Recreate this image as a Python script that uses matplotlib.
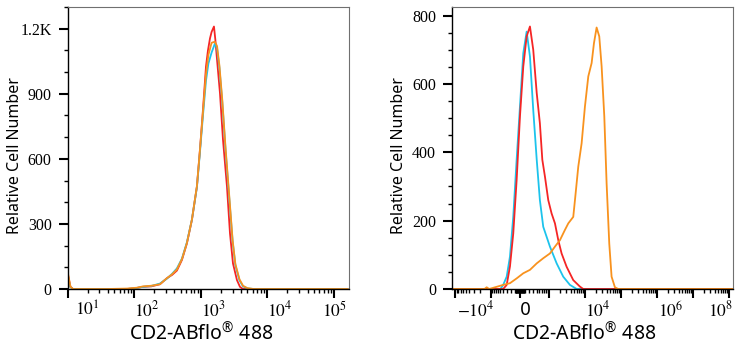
import numpy as np
import matplotlib
matplotlib.use("Agg")
import matplotlib.pyplot as plt
from matplotlib.ticker import FixedLocator, MultipleLocator, LogLocator, NullFormatter
from matplotlib.transforms import ScaledTranslation

plt.rcParams['mathtext.fontset'] = 'stix'

RED = '#f52525'
CYAN = '#1cc3ec'
ORANGE = '#f8921e'

# ---- left panel (log axis) ----
left_x_red = [10, 11, 12, 40, 78, 110, 135, 180, 243, 310, 370, 437, 520, 617, 734, 873, 969,
              1076, 1194, 1279, 1371, 1450, 1574, 1650, 1747, 1938, 2150, 2468, 2738, 3037,
              3486, 3867, 4289, 6000, 1.6e5]
left_y_red = [70, 10, 0, 0, 0, 5, 10, 12, 22, 50, 65, 85, 134, 210, 318, 472, 641,
              826, 1025, 1100, 1155, 1185, 1210, 1150, 1060, 902, 688, 472, 257, 118,
              41, 10, 0, 0, 0]
left_x_other = [10, 11, 12, 40, 78, 110, 135, 180, 243, 310, 370, 437, 520, 617, 734, 873, 969,
                1076, 1194, 1300, 1450, 1620, 1750, 1900, 2100, 2350, 2700, 3000, 3300,
                3800, 4300, 5000, 6200, 1.6e5]
left_y_cyan = [60, 8, 0, 0, 0, 5, 10, 14, 25, 48, 70, 95, 140, 215, 320, 470, 630,
               800, 960, 1040, 1090, 1130, 1110, 1020, 860, 640, 400, 220, 110,
               40, 12, 3, 0, 0]
left_y_orange = [78, 10, 0, 0, 2, 6, 12, 15, 22, 50, 68, 90, 138, 212, 320, 475, 640,
                 815, 990, 1080, 1135, 1140, 1120, 1030, 870, 650, 410, 225, 115,
                 45, 15, 4, 0, 0]
left_yticks = [0, 300, 600, 900, 1200]
left_yticklabels = ['0', '300', '600', '900', '1.2K']
left_xticks = [1e1, 1e2, 1e3, 1e4, 1e5]
left_xticklabels = ['$10^{1}$', '$10^{2}$', '$10^{3}$', '$10^{4}$', '$10^{5}$']

# ---- right panel (biexponential axis) ----
right_x_cyan = [-12100, -500, -404, -299, -214, -138, -67, 0, 67, 138, 214, 299, 404, 516,
                659, 1042, 1621, 2485, 3818, 5880, 1.3e8]
right_y_cyan = [0, 0, 12, 36, 95, 212, 378, 534, 690, 753, 680, 524, 378, 260,
                182, 124, 75, 36, 12, 0, 0]
right_x_red = [-12100, -404, -299, -214, -138, -67, 0, 67, 138, 214, 299, 404, 516, 617,
               742, 931, 1164, 1452, 1803, 2235, 3090, 4730, 7260, 8980, 1.3e8]
right_y_red = [0, 0, 12, 66, 163, 319, 505, 651, 739, 768, 700, 573, 485, 378,
               329, 260, 221, 192, 143, 104, 65, 26, 7, 0, 0]
right_x_orange = [-12100, -1500, -1300, -1100, -404, -214, -67, 67, 214, 404, 659, 1042,
                  1452, 2010, 2775, 3440, 4730, 5275, 6525, 8080, 10000, 12390, 15340,
                  17800, 21100, 25000, 29100, 34500, 40000, 47400, 55000, 68100, 84200, 1.3e8]
right_y_orange = [0, 0, 5, 0, 12, 17, 31, 46, 56, 75, 90, 104,
                  124, 143, 173, 192, 211, 260, 358, 426, 534, 622, 661,
                  719, 765, 739, 651, 505, 309, 133, 36, 5, 0, 0]
right_yticks = [0, 200, 400, 600, 800]
right_xticks = [-1e4, -1e3, 0, 1e3, 1e4, 1e5, 1e6, 1e7, 1e8]
right_xticklabels = ['$-10^{4}$', '', '0', '', '$10^{4}$', '', '$10^{6}$', '', '$10^{8}$']

W = 313.0


def fwd(x):
    return np.arcsinh(np.asarray(x) / W) / np.log(10)


def inv(u):
    return W * np.sinh(np.asarray(u) * np.log(10))


fig = plt.figure(figsize=(7.43, 3.5), dpi=100)
ax1 = fig.add_axes([67.7 / 743, 1 - 289 / 350, (349 - 67.7) / 743, 282 / 350])
ax2 = fig.add_axes([452 / 743, 1 - 289 / 350, (733 - 452) / 743, 282 / 350])

ax1.plot(left_x_red, left_y_red, color=RED, lw=1.3)
ax1.plot(left_x_other, left_y_cyan, color=CYAN, lw=1.3)
ax1.plot(left_x_other, left_y_orange, color=ORANGE, lw=1.3)
ax1.set_xscale('log')
ax1.set_xlim(10, 1.68e5)
ax1.set_ylim(0, 1300)
ax1.yaxis.set_major_locator(FixedLocator(left_yticks))
ax1.set_yticklabels(left_yticklabels)
ax1.yaxis.set_minor_locator(MultipleLocator(100))
ax1.xaxis.set_major_locator(FixedLocator(left_xticks))
ax1.set_xticklabels(left_xticklabels)
ax1.xaxis.set_minor_locator(LogLocator(base=10, subs=np.arange(2, 10)))
ax1.xaxis.set_minor_formatter(NullFormatter())

ax2.plot(right_x_cyan, right_y_cyan, color=CYAN, lw=1.3)
ax2.plot(right_x_red, right_y_red, color=RED, lw=1.3)
ax2.plot(right_x_orange, right_y_orange, color=ORANGE, lw=1.3)
ax2.set_xscale('function', functions=(fwd, inv))
ax2.set_xlim(-12100, 1.3e8)
ax2.set_ylim(0, 825)
ax2.yaxis.set_major_locator(FixedLocator(right_yticks))
ax2.set_yticklabels([str(v) for v in right_yticks])
ax2.yaxis.set_minor_locator(MultipleLocator(50))
ax2.xaxis.set_major_locator(FixedLocator(right_xticks))
ax2.set_xticklabels(right_xticklabels)
minors = []
for n in range(1, 9):
    for k in range(1, 10):
        v = k * 10.0 ** n
        if v not in right_xticks:
            minors.append(v)
            minors.append(-v)
ax2.xaxis.set_minor_locator(FixedLocator(minors))
ax2.xaxis.set_minor_formatter(NullFormatter())

for ax in (ax1, ax2):
    for s in ('top', 'right'):
        ax.spines[s].set_color('#707070')
        ax.spines[s].set_linewidth(0.8)
    for s in ('left', 'bottom'):
        ax.spines[s].set_color('black')
        ax.spines[s].set_linewidth(1.0)
    ax.tick_params(which='major', direction='out', length=6.5, width=1.5, color='black')
    ax.tick_params(which='minor', direction='out', length=3, width=1.0, color='black')
    ax.tick_params(axis='y', which='major', pad=5, labelsize=11.5,
                   labelfontfamily='Liberation Serif')
    ax.tick_params(axis='x', which='major', pad=2, labelsize=12.5)
    for lab in ax.get_xticklabels():
        lab.set_horizontalalignment('left')
    ax.set_ylabel('Relative Cell Number', fontfamily='Noto Sans', fontsize=11.5)
    ax.set_xlabel('CD2-ABflo$^{\\mathregular{®}}$ 488', fontfamily='Noto Sans', fontsize=14)
    ax.yaxis.set_label_coords(-0.16, 0.473)

ax1.xaxis.set_label_coords(0.474, -0.118)
ax2.xaxis.set_label_coords(0.470, -0.118)

# tick label nudges (pixels), mimicking the cytometry software placement
left_shift = [7, 0, 0, 0, -12]
right_shift = [2, 0, 0, 0, 0, 0, 1, 0, -21]
for lab, dx in zip(ax1.get_xticklabels(), left_shift):
    lab.set_transform(lab.get_transform() + ScaledTranslation(dx / 100, 0, fig.dpi_scale_trans))
for lab, dx in zip(ax2.get_xticklabels(), right_shift):
    lab.set_transform(lab.get_transform() + ScaledTranslation(dx / 100, 0, fig.dpi_scale_trans))

fig.savefig('out.png', dpi=100)
